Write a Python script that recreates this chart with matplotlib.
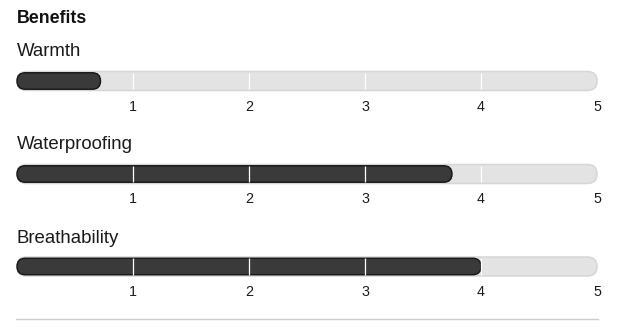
import matplotlib
matplotlib.use("Agg")
import matplotlib.pyplot as plt
from matplotlib.patches import FancyBboxPatch
from matplotlib.lines import Line2D

title = "Benefits"
categories = ["Warmth", "Waterproofing", "Breathability"]
values = [0.72, 3.75, 4.0]
tick_values = [1, 2, 3, 4, 5]
tick_labels = ["1", "2", "3", "4", "5"]
vmax = 5

W, H = 617, 329
fig = plt.figure(figsize=(W / 100, H / 100), dpi=100)
plt.rcParams['font.family'] = ['Liberation Sans', 'DejaVu Sans']

left_px, right_px = 17, 597
px_per_unit = (right_px - left_px) / vmax

def fy(ypx):
    return 1 - ypx / H

fig.text(left_px / W, fy(23), title, fontsize=12.8, fontweight='bold',
         ha='left', va='baseline', color='#111111')

bar_centers = [81, 174, 266.5]
label_baselines = [56, 149, 243]
tick_baselines = [111, 203, 296]

ax_h_px = 30
for cat, val, yc, lb, tb in zip(categories, values, bar_centers, label_baselines, tick_baselines):
    fig.text(left_px / W, fy(lb), cat, fontsize=13.4, ha='left', va='baseline',
             color='#1a1a1a')
    ax = fig.add_axes([(left_px - 3) / W, fy(yc + ax_h_px / 2),
                       (right_px - left_px + 6) / W, ax_h_px / H])
    ax.set_xlim(-3 / px_per_unit, vmax + 3 / px_per_unit)
    half = ax_h_px / 2 / px_per_unit
    ax.set_ylim(-half, half)
    ax.axis('off')
    th = 19 / px_per_unit
    track = FancyBboxPatch((0, -th / 2), vmax, th,
                           boxstyle=f"round,pad=0,rounding_size={th/2}",
                           fc='#e3e3e3', ec='#d6d6d6', lw=1.1)
    ax.add_patch(track)
    fh = 16.5 / px_per_unit
    fill = FancyBboxPatch((0, -fh / 2), val, fh,
                          boxstyle=f"round,pad=0,rounding_size={fh/2}",
                          fc='#3a3a3a', ec='#151515', lw=1.0)
    ax.add_patch(fill)
    for t in tick_values[:-1]:
        ax.plot([t, t], [-th / 2 + 0.01, th / 2 - 0.01], color='white', lw=0.9,
                solid_capstyle='butt')
    for t, lab in zip(tick_values, tick_labels):
        xpx = left_px + t * px_per_unit
        fig.text(xpx / W, fy(tb), lab, fontsize=10.3, ha='center', va='baseline',
                 color='#1a1a1a')

fig.add_artist(Line2D([16 / W, 598 / W], [fy(318.5), fy(318.5)], color='#cfcfcf', lw=1.0))

fig.savefig("out.png", dpi=100, facecolor='white')
